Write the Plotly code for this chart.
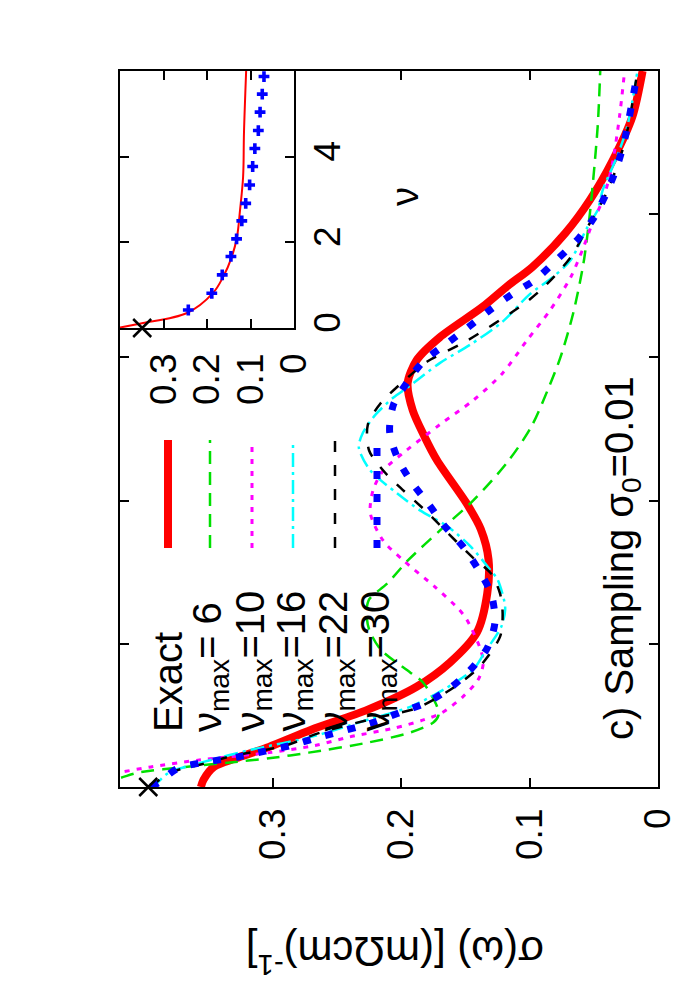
import plotly.graph_objects as go

# ---- main panel: sigma(omega), exact and sampled continuations ----
omega_exact = [0.0, 0.05, 0.14, 0.20, 0.28, 0.40, 0.54, 0.70, 0.87, 1.08, 1.35, 1.59, 1.80, 1.98,
               2.28, 2.45, 2.63, 2.82, 2.98, 3.14, 3.35, 3.50, 3.63, 3.87, 4.10, 4.38, 4.68, 5.0]
sigma_exact = [0.356, 0.354, 0.346, 0.329, 0.303, 0.270, 0.226, 0.188, 0.162, 0.141, 0.133, 0.132, 0.138, 0.149,
               0.172, 0.182, 0.191, 0.195, 0.188, 0.170, 0.137, 0.117, 0.098, 0.072, 0.053, 0.035, 0.020, 0.012]

omega_v6 = [0.0, 0.06, 0.10, 0.14, 0.17, 0.20, 0.24, 0.31, 0.38, 0.45, 0.50, 0.56, 0.73, 0.80, 0.96, 1.10,
            1.22, 1.31, 1.42, 1.58, 1.79, 2.00, 2.26, 2.51, 2.77, 3.00, 3.31, 3.66, 4.01, 4.61, 5.0]
sigma_v6 = [0.45, 0.42, 0.405, 0.368, 0.335, 0.303, 0.272, 0.226, 0.193, 0.175, 0.171, 0.172, 0.183, 0.193, 0.216, 0.225,
            0.227, 0.225, 0.211, 0.195, 0.170, 0.144, 0.118, 0.099, 0.086, 0.076, 0.066, 0.058, 0.053, 0.047, 0.045]

omega_v10 = [0.0, 0.10, 0.14, 0.19, 0.24, 0.29, 0.35, 0.41, 0.47, 0.52, 0.63, 0.75, 0.87, 0.98, 1.17, 1.24,
             1.40, 1.58, 1.72, 1.91, 2.07, 2.21, 2.35, 2.53, 2.70, 2.89, 3.12, 3.33, 3.56, 3.77, 3.94, 4.10,
             4.33, 4.68, 5.0]
sigma_v10 = [0.47, 0.42, 0.395, 0.356, 0.303, 0.267, 0.240, 0.206, 0.182, 0.168, 0.152, 0.140, 0.136, 0.139, 0.149, 0.155,
             0.174, 0.198, 0.214, 0.224, 0.222, 0.214, 0.196, 0.170, 0.144, 0.121, 0.102, 0.084, 0.068, 0.058, 0.051, 0.043,
             0.036, 0.030, 0.026]

omega_v16 = [0.0, 0.03, 0.10, 0.17, 0.26, 0.35, 0.47, 0.56, 0.68, 0.82, 0.94, 1.12, 1.24, 1.31, 1.45, 1.52,
             1.68, 1.82, 1.93, 2.05, 2.21, 2.37, 2.47, 2.60, 2.72, 2.79, 2.96, 3.09, 3.25, 3.44, 3.56, 3.68,
             3.91, 4.03, 4.17, 4.40, 4.61, 5.0]
sigma_v16 = [0.395, 0.390, 0.381, 0.356, 0.317, 0.270, 0.226, 0.193, 0.167, 0.144, 0.135, 0.122, 0.119, 0.120, 0.125, 0.131,
             0.146, 0.164, 0.185, 0.203, 0.224, 0.233, 0.230, 0.220, 0.206, 0.195, 0.170, 0.146, 0.121, 0.100, 0.082, 0.068,
             0.055, 0.047, 0.043, 0.032, 0.024, 0.016]

omega_v22 = [0.0, 0.10, 0.17, 0.21, 0.29, 0.38, 0.49, 0.55, 0.69, 0.84, 1.05, 1.21, 1.35, 1.49, 1.60, 1.83,
             1.92, 2.11, 2.21, 2.35, 2.53, 2.68, 2.89, 2.97, 3.11, 3.37, 3.49, 3.70, 3.94, 4.15, 4.50, 5.0]
sigma_v22 = [0.395, 0.380, 0.350, 0.335, 0.290, 0.263, 0.216, 0.188, 0.160, 0.139, 0.123, 0.121, 0.123, 0.130, 0.144, 0.170,
             0.180, 0.203, 0.214, 0.225, 0.226, 0.216, 0.191, 0.180, 0.150, 0.105, 0.089, 0.068, 0.053, 0.040, 0.026, 0.016]

omega_v30 = [0.0, 0.03, 0.13, 0.18, 0.21, 0.25, 0.29, 0.35, 0.45, 0.52, 0.59, 0.69, 0.82, 0.97, 1.15, 1.35,
             1.52, 1.68, 1.82, 1.98, 2.13, 2.30, 2.48, 2.67, 2.83, 2.97, 3.10, 3.21, 3.33, 3.44, 3.54, 3.68,
             3.82, 3.96, 4.15, 4.33, 4.52, 4.89, 5.0]
sigma_v30 = [0.395, 0.389, 0.374, 0.348, 0.327, 0.306, 0.286, 0.263, 0.222, 0.201, 0.180, 0.162, 0.146, 0.133, 0.127, 0.130,
             0.140, 0.152, 0.166, 0.179, 0.192, 0.203, 0.209, 0.206, 0.195, 0.183, 0.164, 0.148, 0.131, 0.114, 0.096, 0.079,
             0.063, 0.051, 0.040, 0.032, 0.026, 0.018, 0.016]

cross_main_omega = [0.0]
cross_main_sigma = [0.397]

# ---- inset: Matsubara axis ----
nu_line = [0.0, 0.07, 0.117, 0.35, 0.82, 1.19, 1.66, 2.13, 2.76, 3.53, 4.56, 6.0]
sigma_nu_line = [0.405, 0.37, 0.347, 0.246, 0.186, 0.163, 0.143, 0.131, 0.124, 0.117, 0.115, 0.110]
nu_points = [0.42, 0.81, 1.24, 1.67, 2.08, 2.50, 2.91, 3.34, 3.77, 4.19, 4.61, 5.04, 5.46, 5.87]
sigma_nu_points = [0.243, 0.189, 0.165, 0.145, 0.132, 0.120, 0.111, 0.102, 0.095, 0.090, 0.082, 0.078, 0.073, 0.069]
cross_inset_nu = [0.0]
cross_inset_sigma = [0.349]

sigma_ticks = [0, 0.1, 0.2, 0.3]
sigma_ticktext = ["0", "0.1", "0.2", "0.3"]
nu_ticks = [0, 2, 4]

FONT = "Liberation Sans, Arial, sans-serif"

series = [
    ("Exact", omega_exact, sigma_exact, "#ff0000", 8, "solid"),
    ("ν<sub>max</sub>= 6", omega_v6, sigma_v6, "#00e000", 2.5, "13px,8px"),
    ("ν<sub>max</sub>=10", omega_v10, sigma_v10, "#ff00ff", 3, "5px,7px"),
    ("ν<sub>max</sub>=16", omega_v16, sigma_v16, "#00ffff", 2.5, "14px,5px,3px,5px"),
    ("ν<sub>max</sub>=22", omega_v22, sigma_v22, "#000000", 2.5, "11px,13px"),
    ("ν<sub>max</sub>=30", omega_v30, sigma_v30, "#0000ff", 7, "8px,15px"),
]

fig = go.Figure()

for name, om, sg, color, width, dash in series:
    fig.add_trace(go.Scatter(
        x=sg, y=om, mode="lines", name=name,
        line=dict(color=color, width=width, dash=dash, shape="spline", smoothing=0.8),
        xaxis="x", yaxis="y", showlegend=False,
    ))

fig.add_trace(go.Scatter(
    x=cross_main_sigma, y=cross_main_omega, mode="markers",
    marker=dict(symbol="x-thin", size=18, line=dict(color="black", width=2.5)),
    cliponaxis=False, showlegend=False, xaxis="x", yaxis="y",
))

# inset
fig.add_trace(go.Scatter(
    x=sigma_nu_line, y=nu_line, mode="lines",
    line=dict(color="#ff0000", width=2, shape="spline"),
    xaxis="x2", yaxis="y2", showlegend=False,
))
fig.add_trace(go.Scatter(
    x=sigma_nu_points, y=nu_points, mode="markers",
    marker=dict(symbol="cross", size=9, color="#0000ff"),
    xaxis="x2", yaxis="y2", showlegend=False,
))
fig.add_trace(go.Scatter(
    x=cross_inset_sigma, y=cross_inset_nu, mode="markers",
    marker=dict(symbol="x-thin", size=18, line=dict(color="black", width=2.5)),
    cliponaxis=False, xaxis="x2", yaxis="y2", showlegend=False,
))

axis_common = dict(
    showline=True, linecolor="black", linewidth=1.5, mirror="ticks",
    ticks="inside", ticklen=9, tickwidth=1.5, tickcolor="black",
    showgrid=False, zeroline=False,
    tickfont=dict(family=FONT, size=37, color="black"),
)

# plot-area corners in page pixels (page has an 8px body offset)
L, R, T, B = 120, 658, 71, 787
OFF = 8


def px(x):
    return (x - L) / (R - L)


def py(y):
    return (B - y) / (B - T)


annotations = []
shapes = []

# rotated key
key_x = [168, 210, 252, 293, 335, 377]
for (name, _, _, color, width, dash), kx in zip(series, key_x):
    annotations.append(dict(
        text=name, textangle=-90, x=px(kx), y=py(734), xref="paper", yref="paper",
        xanchor="center", yanchor="bottom", showarrow=False,
        font=dict(family=FONT, size=40, color="black"),
    ))
    shapes.append(dict(
        type="line", xref="paper", yref="paper",
        x0=px(kx), x1=px(kx), y0=py(548), y1=py(440),
        line=dict(color=color, width=width, dash=dash),
    ))

annotations += [
    dict(text="σ(ω) [(mΩcm)<sup>-1</sup>]", textangle=180, x=px(395), y=py(955),
         xref="paper", yref="paper", xanchor="center", yanchor="middle", showarrow=False,
         font=dict(family=FONT, size=42, color="black")),
    dict(text="c) Sampling σ<sub>0</sub>=0.01", textangle=-90, x=px(622), y=py(558),
         xref="paper", yref="paper", xanchor="center", yanchor="middle", showarrow=False,
         font=dict(family=FONT, size=40, color="black")),
    dict(text="ν", textangle=-90, x=px(405), y=py(197),
         xref="paper", yref="paper", xanchor="center", yanchor="middle", showarrow=False,
         font=dict(family=FONT, size=38, color="black")),
]

fig.update_layout(
    width=700, height=1000,
    margin=dict(l=L - OFF, r=700 - R + OFF, t=T - OFF, b=1000 - B + OFF),
    paper_bgcolor="white", plot_bgcolor="white",
    xaxis=dict(axis_common, domain=[0, 1], anchor="y", range=[0.419, 0],
               tickvals=sigma_ticks, ticktext=sigma_ticktext, tickangle=-90, ticklabelstandoff=5),
    yaxis=dict(axis_common, domain=[0, 1], anchor="x", range=[0, 5],
               tickvals=[1, 2, 3, 4], showticklabels=False),
    xaxis2=dict(axis_common, domain=[0, px(294)], anchor="y2", range=[0.4, 0],
                tickvals=sigma_ticks, ticktext=sigma_ticktext, tickangle=-90, ticklabelstandoff=9),
    yaxis2=dict(axis_common, domain=[py(328), 1], anchor="x2", range=[0, 6],
                tickvals=nu_ticks, side="right", tickangle=-90, ticklabelstandoff=0),
    annotations=annotations,
    shapes=shapes,
)

fig.write_html("out.html")
